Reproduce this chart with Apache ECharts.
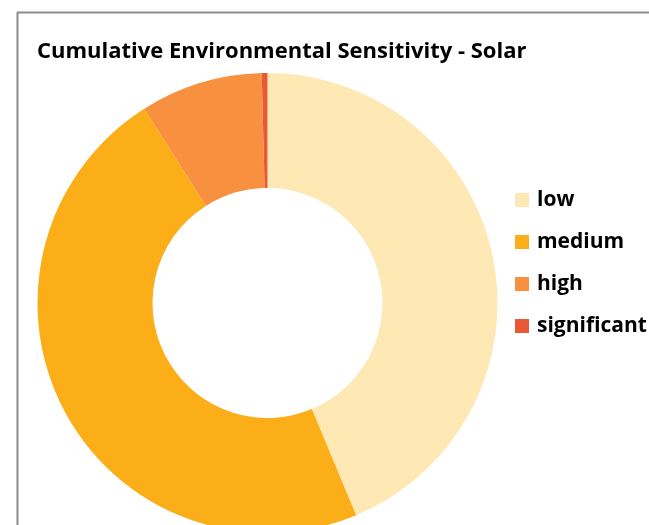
<!DOCTYPE html>
<html>
<head>
<meta charset="utf-8">
<script src="https://cdn.jsdelivr.net/npm/echarts@6/dist/echarts.min.js"></script>
<style>
  html, body { margin: 0; padding: 0; background: #fff; }
  #chart { width: 649px; height: 525px; }
</style>
</head>
<body>
<div id="chart"></div>
<script>
// Share of area in each sensitivity class (percent)
const categories = ['low', 'medium', 'high', 'significant'];
const shares = [43.7, 47.3, 8.6, 0.4];
const colors = ['#FEE8B4', '#FBAE17', '#F7913F', '#E85A36'];

const chart = echarts.init(document.getElementById('chart'), null, { renderer: 'canvas' });

const option = {
  animation: false,
  color: colors,
  title: {
    text: 'Cumulative Environmental Sensitivity - Solar',
    left: 32,
    top: 36,
    textStyle: {
      fontFamily: 'Open Sans',
      fontWeight: 'bold',
      fontSize: 22,
      color: '#000'
    }
  },
  legend: {
    orient: 'vertical',
    left: 510,
    top: 183,
    itemWidth: 14,
    itemHeight: 14,
    itemGap: 18,
    icon: 'rect',
    textStyle: {
      fontFamily: 'Open Sans',
      fontWeight: 'bold',
      fontSize: 21,
      lineHeight: 24,
      color: '#000',
      padding: [0, 0, 0, 3]
    },
    data: categories
  },
  graphic: [
    { type: 'line', shape: { x1: 17.5, y1: 12, x2: 17.5, y2: 525 }, style: { stroke: '#8c8c8c', lineWidth: 2 } },
    { type: 'line', shape: { x1: 17, y1: 12.5, x2: 649, y2: 12.5 }, style: { stroke: '#8c8c8c', lineWidth: 2 } }
  ],
  series: [{
    type: 'pie',
    center: [267.5, 303],
    radius: [115, 230],
    startAngle: 90,
    clockwise: true,
    avoidLabelOverlap: false,
    label: { show: false },
    labelLine: { show: false },
    itemStyle: { borderWidth: 0 },
    emphasis: { disabled: true },
    data: categories.map((name, i) => ({ name, value: shares[i] }))
  }]
};

chart.setOption(option);
</script>
</body>
</html>
